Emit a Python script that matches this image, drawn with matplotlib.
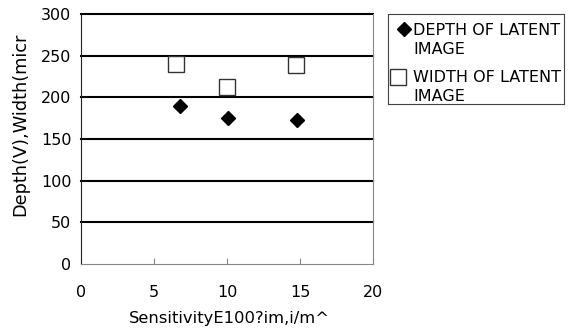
import matplotlib
matplotlib.use('Agg')
import matplotlib.pyplot as plt

plt.rcParams['font.family'] = ['DejaVu Sans']

# sensitivity vs depth / width of latent image
depth_x = [6.8, 10.1, 14.8]
depth_y = [190, 175, 173]
width_x = [6.5, 10.0, 14.7]
width_y = [240, 212, 239]
series_labels = ['DEPTH OF LATENT\nIMAGE', 'WIDTH OF LATENT\nIMAGE']
x_ticks = [0, 5, 10, 15, 20]
y_ticks = [0, 50, 100, 150, 200, 250, 300]

fig = plt.figure(figsize=(5.73, 3.33), dpi=100)
ax = fig.add_axes([0.1414, 0.2072, 0.5096, 0.7508])

for y in y_ticks[1:]:
    ax.axhline(y, color='black', lw=1.5, zorder=1, clip_on=False)

ax.plot(depth_x, depth_y, ls='none', marker='D', ms=7, color='black', zorder=3)
ax.plot(width_x, width_y, ls='none', marker='s', ms=12, mfc='white', mec='#333333',
        mew=1, zorder=3)

ax.set_xlim(0, 20)
ax.set_ylim(0, 300)
ax.set_xticks(x_ticks)
ax.set_yticks(y_ticks)
ax.tick_params(axis='x', direction='in', length=4, color='#888888', pad=15, labelsize=11.5)
ax.tick_params(axis='y', length=0, pad=7, labelsize=11.5)
ax.spines['top'].set_visible(False)
ax.spines['left'].set_color('#222222')
ax.spines['bottom'].set_color('#888888')
ax.spines['right'].set_color('#888888')

fig.text(0.401, 0.045, 'SensitivityE100?im,i/m^', ha='center', va='center', fontsize=11.8)
fig.text(0.035, 0.627, 'Depth(V),Width(micr', ha='center', va='center',
         rotation=90, fontsize=12.8)

# legend box drawn by hand
lax = fig.add_axes([0.677, 0.688, 0.307, 0.27])
lax.set_xlim(0, 1)
lax.set_ylim(0, 1)
lax.set_xticks([])
lax.set_yticks([])
for s in lax.spines.values():
    s.set_color('#444444')
    s.set_linewidth(0.8)
lax.plot([0.091], [0.833], ls='none', marker='D', ms=7, color='black', clip_on=False)
lax.plot([0.057], [0.30], ls='none', marker='s', ms=12, mfc='white', mec='#333333',
         mew=1, clip_on=False)
lax.text(0.142, 0.711, series_labels[0], va='center', ha='left', fontsize=11.5,
         linespacing=1.4)
lax.text(0.142, 0.189, series_labels[1], va='center', ha='left', fontsize=11.5,
         linespacing=1.4)

fig.savefig('out.png', dpi=100)
